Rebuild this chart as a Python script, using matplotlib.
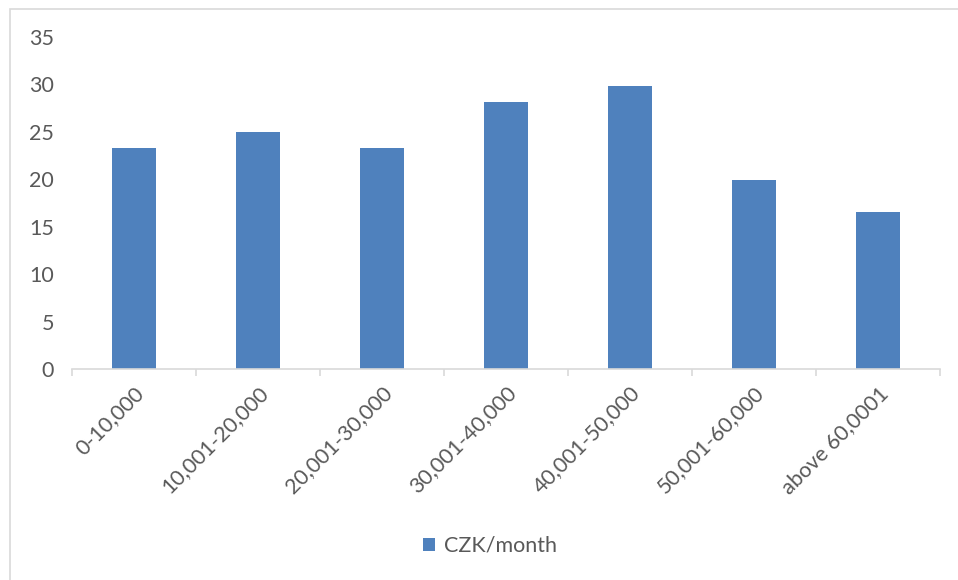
"""Bar chart: share by income band (CZK/month)."""

import matplotlib
matplotlib.use("Agg")
import matplotlib.pyplot as plt
import matplotlib.patches as mpatches
import numpy as np

bands = ["0-10,000", "10,001-20,000", "20,001-30,000", "30,001-40,000",
         "40,001-50,000", "50,001-60,000", "above 60,0001"]
values = [23.3, 25.0, 23.3, 28.2, 29.8, 19.9, 16.6]
series_name = "CZK/month"

BLUE = "#4F81BD"
GRAY_TXT = "#595959"
GRAY_LINE = "#D9D9D9"

plt.rcParams["font.family"] = ["Lato", "DejaVu Sans"]

W, H = 958, 580
fig = plt.figure(figsize=(W / 100, H / 100), dpi=100)
ax = fig.add_axes([72 / W, 1 - 369 / H, (940 - 72) / W, (369 - 37) / H])

x = np.arange(len(bands))
ax.bar(x, values, width=0.35, color=BLUE, label=series_name, zorder=2)

ax.set_xlim(-0.5, len(bands) - 0.5)
ax.set_ylim(0, 35)
ax.set_yticks(np.arange(0, 36, 5))
ax.tick_params(axis="y", length=0, labelsize=15.5, labelcolor=GRAY_TXT, pad=13)

ax.set_xticks(x)
ax.set_xticklabels(bands, rotation=45, ha="right", rotation_mode="anchor")
ax.set_xticks(np.arange(-0.5, len(bands)), minor=True)
ax.tick_params(axis="x", which="major", length=0, labelsize=15.5,
               labelcolor=GRAY_TXT, pad=10)
ax.tick_params(axis="x", which="minor", length=5, width=1.2, color=GRAY_LINE,
               direction="out")

for s in ("top", "right", "left"):
    ax.spines[s].set_visible(False)
ax.spines["bottom"].set_color(GRAY_LINE)
ax.spines["bottom"].set_linewidth(1.2)

fig.legend(loc="center", bbox_to_anchor=(490 / W, 1 - 546 / H), frameon=False,
           fontsize=15.5, labelcolor=GRAY_TXT, handlelength=0.55,
           handleheight=0.55, handletextpad=0.4)

# chart frame, cut at the right and bottom like the reference
fig.patches.append(mpatches.Rectangle((10 / W, -0.1), 1.0, 1 - 9 / H + 0.1,
                                      transform=fig.transFigure, fill=False,
                                      edgecolor=GRAY_LINE, lw=1.2))

fig.savefig("out.png", dpi=100)
